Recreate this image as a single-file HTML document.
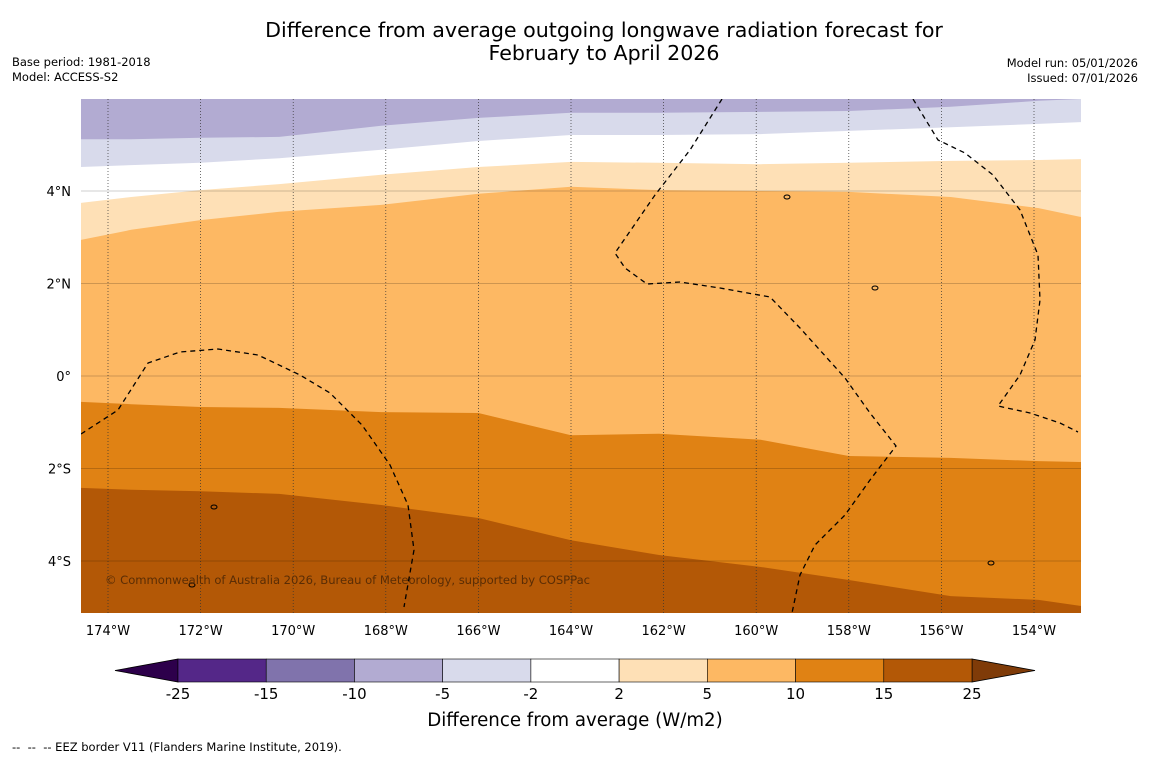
<!DOCTYPE html>
<html><head><meta charset="utf-8">
<style>
body{margin:0;background:#fff;font-family:"DejaVu Sans",sans-serif;}
#wrap{position:relative;width:1150px;height:758px;overflow:hidden;background:#fff;}
.t{position:absolute;font-size:11.5px;color:#000;font-family:"DejaVu Sans",sans-serif;}
</style></head>
<body>
<div id="wrap">
<div style="position:absolute;left:0;width:1208px;top:19px;text-align:center;font-size:20.6px;line-height:23px;font-family:'DejaVu Sans',sans-serif;">Difference from average outgoing longwave radiation forecast for<br>February to April 2026</div>
<div class="t" style="left:12px;top:55px;line-height:15px;">Base period: 1981-2018<br>Model: ACCESS-S2</div>
<div class="t" style="right:12px;top:56px;line-height:15px;text-align:right;">Model run: 05/01/2026<br>Issued: 07/01/2026</div>
<div class="t" style="left:12px;top:740px;">--&nbsp; --&nbsp; -- EEZ border V11 (Flanders Marine Institute, 2019).</div>
<svg id="map" width="1150" height="758" style="position:absolute;left:0;top:0"></svg>
</div>
<script>
const lons=[-174.6,-173.5,-172,-170.3,-168.1,-166,-164,-162.1,-159.9,-158,-155.8,-153.9,-153.0];
const bound1=[5.12,5.12,5.15,5.17,5.41,5.58,5.69,5.69,5.71,5.73,5.82,5.95,5.99];
const bound2=[4.52,4.56,4.61,4.71,4.89,5.08,5.21,5.21,5.23,5.30,5.38,5.45,5.49];
const bound3=[3.74,3.87,4.02,4.15,4.35,4.52,4.63,4.61,4.58,4.61,4.65,4.67,4.69];
const bound4=[2.94,3.16,3.37,3.55,3.70,3.94,4.09,4.02,4.00,3.98,3.87,3.63,3.44];
const bound5=[-0.56,-0.61,-0.67,-0.69,-0.78,-0.80,-1.28,-1.25,-1.38,-1.73,-1.77,-1.84,-1.86];
const bound6=[-2.42,-2.46,-2.49,-2.55,-2.79,-3.07,-3.55,-3.87,-4.13,-4.41,-4.76,-4.84,-4.97];
const lonTicks=[-174,-172,-170,-168,-166,-164,-162,-160,-158,-156,-154];
const latTicks=[4,2,0,-2,-4];
const latLabels=["4°N","2°N","0°","2°S","4°S"];
const cbLevels=["-25","-15","-10","-5","-2","2","5","10","15","25"];
const cbColors=["#542788","#8073ac","#b2abd2","#d8daeb","#ffffff","#fee0b6","#fdb863","#e08214","#b35806"];

const NS="http://www.w3.org/2000/svg";
const svg=document.getElementById('map');
const X0=81,X1=1081,Y0=99,Y1=613;
const xS=lon=>108+(lon+174)*46.3;
const yS=lat=>376-lat*46.25;
function mk(tag,attrs,parent){const e=document.createElementNS(NS,tag);for(const k in attrs)e.setAttribute(k,attrs[k]);(parent||svg).appendChild(e);return e;}
const clip=mk('clipPath',{id:'cp'});mk('rect',{x:X0,y:Y0,width:X1-X0,height:Y1-Y0},clip);
const g=mk('g',{'clip-path':'url(#cp)'});
function lineD(b){return b.map((v,i)=>(xS(lons[i])).toFixed(1)+','+yS(v).toFixed(1)).join(' L');}
const bands=[[null,'#b2abd2'],[bound1,'#d8daeb'],[bound2,'#ffffff'],[bound3,'#fee0b6'],[bound4,'#fdb863'],[bound5,'#e08214'],[bound6,'#b35806']];
bands.forEach((b,i)=>{
  let el;
  if(!b[0]){el=mk('rect',{x:X0,y:Y0,width:X1-X0,height:Y1-Y0,fill:b[1]},g);}
  else{el=mk('path',{d:'M'+(X0-20)+','+yS(b[0][0])+' L'+lineD(b[0])+' L'+(X1+20)+','+yS(b[0][b[0].length-1])+' L'+(X1+20)+','+(Y1+20)+' L'+(X0-20)+','+(Y1+20)+'Z',fill:b[1]},g);}
  
  
});
lonTicks.forEach(l=>{
  const ln=mk('line',{x1:xS(l),x2:xS(l),y1:Y0,y2:Y1,stroke:'#333','stroke-width':0.7,'stroke-dasharray':'1,2'},g);
  
  
  const t=mk('text',{x:xS(l),y:635,'text-anchor':'middle','font-size':13,'font-family':'DejaVu Sans, sans-serif'});
  t.textContent=Math.abs(l)+'°W';
  
  
});
latTicks.forEach((l,i)=>{
  const ln=mk('line',{x1:X0,x2:X1,y1:yS(l),y2:yS(l),stroke:'#000','stroke-opacity':0.25,'stroke-width':0.8},g);
  
  
  const t=mk('text',{x:71,y:yS(l)+5,'text-anchor':'end','font-size':13,'font-family':'DejaVu Sans, sans-serif'});
  t.textContent=latLabels[i];
  
  
});
const eez=["M81,434 L118,410 L148,363 L180,352 L218,349 L258,355 L300,375 L330,393 L362,425 L390,465 L408,505 L414,550 L404,607",
"M722,99 L690,150 L655,195 L615,253 L625,268 L647,284 L680,282 L720,288 L770,297 L800,328 L845,378 L870,413 L896,446 L870,480 L845,515 L815,545 L800,575 L792,613",
"M913,99 L938,140 L965,153 L993,175 L1020,210 L1038,255 L1040,300 L1035,340 L1020,375 L998,406 L1030,413 L1060,423 L1078,432"];
eez.forEach((d,i)=>{const p=mk('path',{d:d,fill:'none',stroke:'#000','stroke-width':1.3,'stroke-dasharray':'5,4'},g);
  
  });
[[787,197],[875,288],[214,507],[192,585],[991,563]].forEach(p=>{const e=mk('ellipse',{cx:p[0],cy:p[1],rx:3,ry:2,fill:'none',stroke:'#000','stroke-width':1},g);
  
  });
const cr=mk('text',{x:105,y:584,'font-size':11.6,fill:'#5a2d05','font-family':'DejaVu Sans, sans-serif',textLength:485},g);
cr.textContent='© Commonwealth of Australia 2026, Bureau of Meteorology, supported by COSPPac';


const cbX0=178,cbX1=972,cbY=659,cbH=23,segW=(cbX1-cbX0)/cbColors.length;
const la=mk('polygon',{points:`115,670.5 ${cbX0},${cbY} ${cbX0},${cbY+cbH}`,fill:'#2d004b',stroke:'#000','stroke-width':0.8});


const ra=mk('polygon',{points:`1035,670.5 ${cbX1},${cbY} ${cbX1},${cbY+cbH}`,fill:'#7f3b08',stroke:'#000','stroke-width':0.8});


cbColors.forEach((c,i)=>{const r=mk('rect',{x:cbX0+i*segW,y:cbY,width:segW,height:cbH,fill:c,stroke:'#000','stroke-width':0.6});
  
  });
cbLevels.forEach((l,i)=>{const t=mk('text',{x:cbX0+i*segW,y:699,'text-anchor':'middle','font-size':15,'font-family':'DejaVu Sans, sans-serif'});
  t.textContent=l;
  
  });
const ct=mk('text',{x:575,y:726,'text-anchor':'middle','font-size':18.2,'font-family':'DejaVu Sans, sans-serif'});
ct.textContent='Difference from average (W/m2)';


</script>
</body></html>
